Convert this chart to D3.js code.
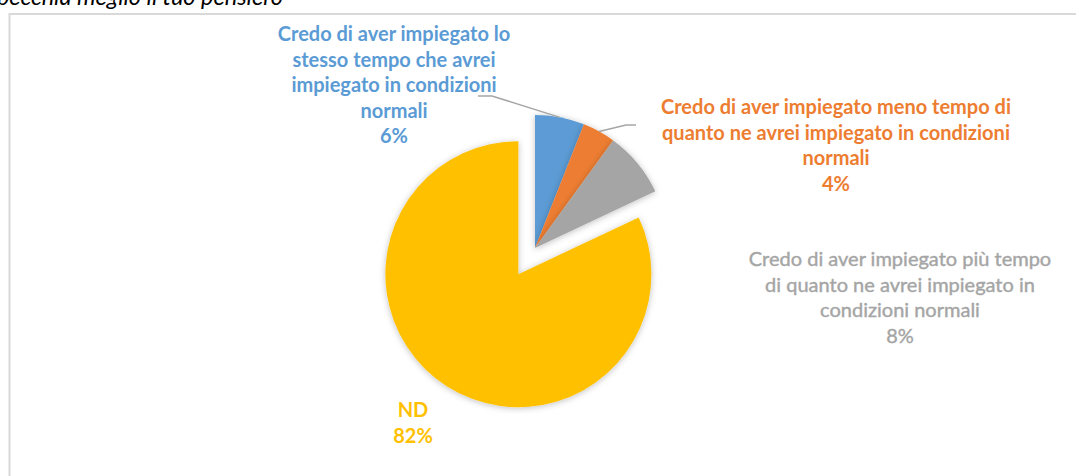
<!DOCTYPE html>
<html>
<head>
<meta charset="utf-8">
<script src="https://cdn.jsdelivr.net/npm/d3@7"></script>
<style>
  body { margin: 0; background: #fff; }
  svg { display: block; }
  text { font-family: Lato, "Noto Sans", sans-serif; }
</style>
</head>
<body>
<script>
// risposte e percentuali
var categories = [
    "Credo di aver impiegato lo stesso tempo che avrei impiegato in condizioni normali",
    "Credo di aver impiegato meno tempo di quanto ne avrei impiegato in condizioni normali",
    "Credo di aver impiegato più tempo di quanto ne avrei impiegato in condizioni normali",
    "ND"
];
var values = [6, 4, 8, 82];
var percentLabels = ["6%", "4%", "8%", "82%"];
// righe delle etichette come vanno a capo nel grafico
var labelLines = [
    ["Credo di aver impiegato lo", "stesso tempo che avrei", "impiegato in condizioni", "normali"],
    ["Credo di aver impiegato meno tempo di", "quanto ne avrei impiegato in condizioni", "normali"],
    ["Credo di aver impiegato più tempo", "di quanto ne avrei impiegato in", "condizioni normali"],
    ["ND"]
];
var colors = ["#5B9BD5", "#ED7D31", "#A5A5A5", "#FFC000"];

window.onload = function(){

    var w = 1076, h = 476;

    var svg = d3.select("body")
        .append("svg")
        .attr("width", w)
        .attr("height", h);

    // ombra leggera come in Excel
    var filter = svg.append("defs").append("filter")
        .attr("id", "shadow")
        .attr("x", "-20%").attr("y", "-20%")
        .attr("width", "140%").attr("height", "140%");
    filter.append("feDropShadow")
        .attr("dx", 0).attr("dy", 1)
        .attr("stdDeviation", 3)
        .attr("flood-color", "#000")
        .attr("flood-opacity", 0.25);

    // titolo della domanda, tagliato in alto
    svg.append("text")
        .attr("x", 283)
        .attr("y", 5)
        .attr("text-anchor", "end")
        .style("font-style", "italic")
        .style("font-size", "23.5px")
        .style("fill", "#000")
        .text("Scegli la risposta che rispecchia meglio il tuo pensiero");

    // bordo dell'area del grafico
    svg.append("rect")
        .attr("x", 9.5)
        .attr("y", 14)
        .attr("width", 1100)
        .attr("height", 500)
        .style("fill", "none")
        .style("stroke", "#d9d9d9")
        .style("stroke-width", 2);

    var cx = 535, cy = 248, r = 133;
    var explode = [0, 0, 0, 31];

    var pie = d3.pie()
        .sort(null)
        .value(function(d){ return d; });
    var arcs = pie(values);

    var arc = d3.arc()
        .innerRadius(0)
        .outerRadius(r);

    function offset(d, i){
        var a = (d.startAngle + d.endAngle) / 2;
        return [Math.sin(a) * explode[i], -Math.cos(a) * explode[i]];
    }

    var g = svg.append("g")
        .attr("transform", "translate(" + cx + "," + cy + ")");

    g.selectAll(".slice")
        .data(arcs)
        .enter()
        .append("path")
        .attr("class", "slice")
        .attr("transform", function(d, i){
            var o = offset(d, i);
            return "translate(" + o[0] + "," + o[1] + ")";
        })
        .attr("d", arc)
        .style("fill", function(d, i){ return colors[i]; })
        .style("filter", "url(#shadow)");

    // linee guida verso le etichette (punto medio del bordo della fetta)
    var leaderEnds = [
        [[492, 96], [478, 96]],
        [[626, 125], [636, 125]]
    ];
    leaderEnds.forEach(function(pts, i){
        var d = arcs[i];
        var a = (d.startAngle + d.endAngle) / 2;
        var start = [cx + Math.sin(a) * r, cy - Math.cos(a) * r];
        svg.append("polyline")
            .attr("points", [start].concat(pts).map(function(p){ return p.join(","); }).join(" "))
            .style("fill", "none")
            .style("stroke", "#a6a6a6")
            .style("stroke-width", 1.5);
    });

    // posizione delle etichette
    var labelPos = [
        {x: 394, y: 41, bold: true},
        {x: 836, y: 114, bold: true},
        {x: 900, y: 266, bold: false},
        {x: 413, y: 417, bold: true}
    ];
    var lineH = 25.5;

    var labels = svg.selectAll(".label")
        .data(arcs)
        .enter()
        .append("text")
        .attr("class", "label")
        .attr("text-anchor", "middle")
        .style("font-size", "20px")
        .style("font-weight", function(d, i){ return labelPos[i].bold ? "bold" : "normal"; })
        .style("fill", function(d, i){ return colors[i]; })
        .style("stroke", function(d, i){ return labelPos[i].bold ? "none" : colors[i]; })
        .style("stroke-width", 0.4)
        .attr("y", function(d, i){ return labelPos[i].y; });

    labels.selectAll("tspan")
        .data(function(d, i){ return labelLines[i].concat([percentLabels[i]]).map(function(t){ return {t: t, i: i}; }); })
        .enter()
        .append("tspan")
        .attr("x", function(d){ return labelPos[d.i].x; })
        .attr("dy", function(d, j){ return j === 0 ? 0 : lineH; })
        .text(function(d){ return d.t; });
};
</script>
</body>
</html>
